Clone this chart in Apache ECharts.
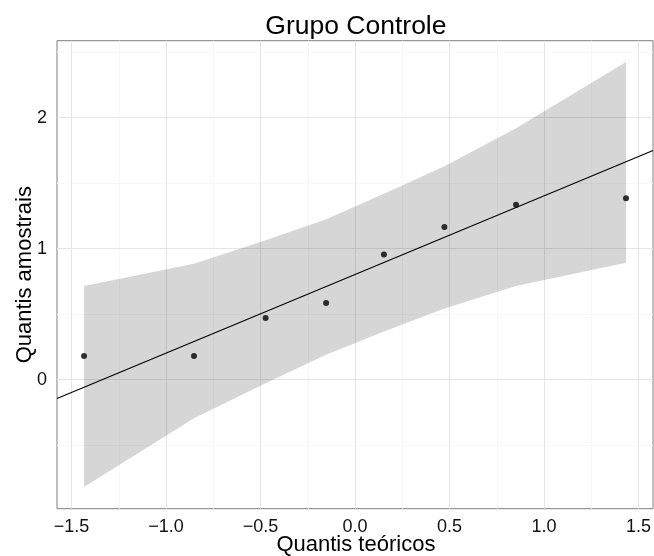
<!DOCTYPE html>
<html><head><meta charset="utf-8">
<script src="https://cdn.jsdelivr.net/npm/echarts@6/dist/echarts.min.js"></script>
<style>html,body{margin:0;padding:0;background:#fff}#c{width:654px;height:556px}</style>
</head><body><div id="c"></div>
<script>
// ---- data ----
const theoretical = [-1.434, -0.852, -0.473, -0.153, 0.153, 0.473, 0.852, 1.434];
const sample      = [0.18, 0.18, 0.47, 0.585, 0.955, 1.165, 1.335, 1.385];
const bandUpper   = [0.715, 0.885, 1.065, 1.225, 1.42, 1.63, 1.92, 2.425];
const bandLower   = [-0.82, -0.295, -0.027, 0.19, 0.368, 0.544, 0.715, 0.893];
const lineIntercept = 0.8025;
const lineSlope = 0.6005;
const xTicks = [-1.5, -1.0, -0.5, 0.0, 0.5, 1.0, 1.5];
const yTicks = [0, 1, 2];
const xMinorGrid = [-1.25, -0.75, -0.25, 0.25, 0.75, 1.25];
const yMinorGrid = [-0.5, 0.5, 1.5, 2.5];
const xRange = [-1.577, 1.577];
const yRange = [-0.985, 2.588];
const titleText = 'Grupo Controle';
const xTitle = 'Quantis teóricos';
const yTitle = 'Quantis amostrais';

// ---- chart ----
const FONT = '"Liberation Sans", Arial, Helvetica, sans-serif';
const chart = echarts.init(document.getElementById('c'), null, {renderer: 'canvas'});
const fmtX = v => { const s = Math.abs(v).toFixed(1); return (v < -1e-9 ? '\u2212' : '') + s; };
const gridX = 57, gridY = 40.7, gridW = 597.8, gridH = 468;

const gridMarks = []
  .concat(xMinorGrid.map(v => ({xAxis: v, lineStyle: {color: '#f7f7f7', width: 1, type: 'solid'}})))
  .concat(yMinorGrid.map(v => ({yAxis: v, lineStyle: {color: '#f7f7f7', width: 1, type: 'solid'}})))
  .concat(xTicks.map(v => ({xAxis: v, lineStyle: {color: '#e5e5e5', width: 1, type: 'solid'}})))
  .concat(yTicks.map(v => ({yAxis: v, lineStyle: {color: '#e5e5e5', width: 1, type: 'solid'}})));

chart.setOption({
  animation: false,
  grid: {left: gridX, top: gridY, width: gridW, height: gridH, show: true,
         borderColor: '#7f7f7f', borderWidth: 1, backgroundColor: '#fff', containLabel: false},
  xAxis: {
    type: 'value', min: xRange[0], max: xRange[1],
    axisLine: {show: false}, splitLine: {show: false},
    axisTick: {show: true, customValues: xTicks, length: 5, lineStyle: {color: '#333', width: 1}},
    axisLabel: {customValues: xTicks, formatter: fmtX, margin: 9, fontSize: 18,
                fontFamily: FONT, color: '#111'}
  },
  yAxis: {
    type: 'value', min: yRange[0], max: yRange[1],
    axisLine: {show: false}, splitLine: {show: false},
    axisTick: {show: true, customValues: yTicks, length: 5, lineStyle: {color: '#333', width: 1}},
    axisLabel: {customValues: yTicks, formatter: v => String(v), margin: 10, fontSize: 18,
                fontFamily: FONT, color: '#111'}
  },
  graphic: [
    {type: 'text', x: gridX + gridW / 2, y: 26.2, silent: true,
     style: {text: titleText, font: '26.5px ' + FONT, fill: '#000', align: 'center', verticalAlign: 'middle'}},
    {type: 'text', x: gridX + gridW / 2, y: 545, silent: true,
     style: {text: xTitle, font: '22px ' + FONT, fill: '#000', align: 'center', verticalAlign: 'middle'}},
    {type: 'text', x: 24.5, y: gridY + gridH / 2, rotation: Math.PI / 2, silent: true,
     style: {text: yTitle, font: '22px ' + FONT, fill: '#000', align: 'center', verticalAlign: 'middle'}}
  ],
  series: [
    {type: 'line', z: 1, silent: true, data: [[xRange[0], yRange[0]]], showSymbol: false,
     symbol: 'none', lineStyle: {width: 0, opacity: 0},
     markLine: {z: 1, silent: true, symbol: ['none', 'none'], label: {show: false}, animation: false,
                emphasis: {disabled: true}, data: gridMarks}},
    {type: 'custom', z: 2, silent: true, data: [[0, 0]],
     renderItem: (params, api) => {
       const up = theoretical.map((x, i) => api.coord([x, bandUpper[i]]));
       const lo = theoretical.map((x, i) => api.coord([x, bandLower[i]])).reverse();
       return {type: 'polygon', shape: {points: up.concat(lo)}, style: {fill: 'rgba(0,0,0,0.16)'}};
     }},
    {type: 'line', z: 3, silent: true, symbol: 'none',
     data: xRange.map(x => [x, lineIntercept + lineSlope * x]),
     lineStyle: {color: '#000', width: 1.1}},
    {type: 'scatter', z: 4, silent: true, symbol: 'circle', symbolSize: 6,
     itemStyle: {color: '#000'},
     data: theoretical.map((x, i) => [x, sample[i]])}
  ]
});
</script>
</body></html>
